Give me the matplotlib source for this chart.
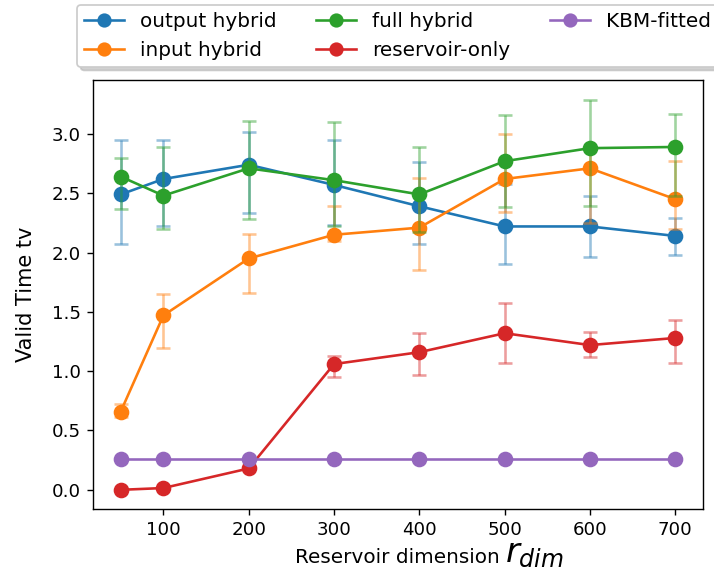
import numpy as np
import matplotlib
matplotlib.use('Agg')
import matplotlib.pyplot as plt

x = [50, 100, 200, 300, 400, 500, 600, 700]

output_mean = [2.49, 2.62, 2.74, 2.57, 2.39, 2.22, 2.22, 2.14]
output_lo = [2.07, 2.22, 2.33, 2.23, 2.07, 1.90, 1.96, 1.98]
output_hi = [2.95, 2.95, 3.02, 2.95, 2.76, 2.575, 2.475, 2.29]

input_mean = [0.66, 1.47, 1.95, 2.15, 2.21, 2.62, 2.71, 2.45]
input_lo = [0.61, 1.195, 1.66, 2.10, 1.85, 2.34, 2.245, 2.20]
input_hi = [0.72, 1.65, 2.157, 2.39, 2.63, 3.00, 2.88, 2.77]

full_mean = [2.64, 2.48, 2.71, 2.61, 2.49, 2.77, 2.88, 2.89]
full_lo = [2.37, 2.20, 2.28, 2.22, 2.17, 2.38, 2.39, 2.475]
full_hi = [2.80, 2.89, 3.11, 3.10, 2.89, 3.16, 3.29, 3.17]

res_mean = [0.0, 0.015, 0.18, 1.06, 1.16, 1.32, 1.22, 1.28]
res_lo = [0.0, 0.015, 0.18, 0.95, 0.965, 1.07, 1.12, 1.07]
res_hi = [0.0, 0.015, 0.18, 1.13, 1.32, 1.575, 1.33, 1.43]

kbm_mean = [0.256] * 8

series = [
    ('output hybrid', 'tab:blue', output_mean, output_lo, output_hi),
    ('input hybrid', 'tab:orange', input_mean, input_lo, input_hi),
    ('full hybrid', 'tab:green', full_mean, full_lo, full_hi),
    ('reservoir-only', 'tab:red', res_mean, res_lo, res_hi),
    ('KBM-fitted', 'tab:purple', kbm_mean, kbm_mean, kbm_mean),
]

fig = plt.figure(figsize=(714 / 125, 571 / 125), dpi=125)
ax = fig.add_axes([0.1303, 0.108, 0.8543, 0.7519])

for label, col, m, lo, hi in series:
    m = np.array(m)
    err = [m - np.array(lo), np.array(hi) - m]
    ax.plot(x, m, marker='o', color=col, markersize=8, label=label)
    ax.errorbar(x, m, yerr=err, fmt='none', ecolor=col, alpha=0.45,
                capsize=4, elinewidth=1.5, capthick=1.5)

ax.set_ylabel('Valid Time tv', fontsize=12, labelpad=9)
ax.set_xticks([100, 200, 300, 400, 500, 600, 700])
ax.tick_params(labelsize=10.5)

fig.legend(loc='upper left', bbox_to_anchor=(77 / 714, 1 - 5 / 571),
           borderaxespad=0, ncol=3, fontsize=11.5, labelspacing=0.5,
           borderpad=0.35, markerscale=0.9,
           shadow={'color': '0.7', 'alpha': 0.6})

# label text and the big r_dim symbol are separate texts
fig.text(295 / 714, 1 - 563 / 571, 'Reservoir dimension', va='baseline',
         ha='left', fontsize=11.5)
fig.text(505 / 714, 1 - 562 / 571, '$r_{dim}$', va='baseline', ha='left',
         fontsize=19.5)

fig.savefig('out.png', dpi=125)
